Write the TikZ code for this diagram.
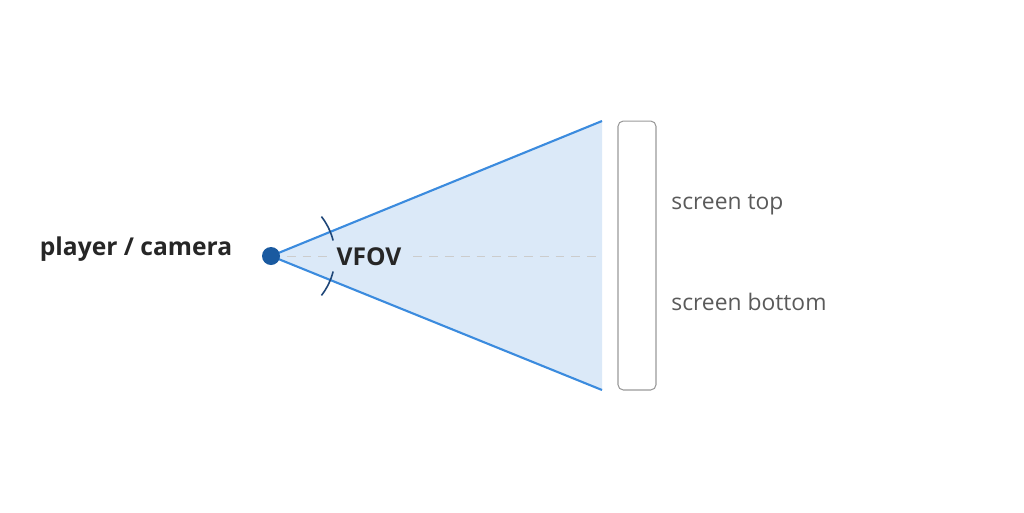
\documentclass[tikz,border=0pt]{standalone}
\usepackage{fontspec}
\setmainfont{Open Sans}
\usetikzlibrary{positioning}
\definecolor{rayblue}{RGB}{59,139,222}
\definecolor{fovfill}{RGB}{219,233,248}
\definecolor{camblue}{RGB}{26,90,160}
\definecolor{arcblue}{RGB}{30,70,120}
\definecolor{labelgray}{RGB}{90,90,90}
\tikzstyle{ray} = [draw=rayblue, line width=1.2pt]
\tikzstyle{label} = [font=\fontsize{13}{15}\selectfont, text=labelgray, anchor=west, inner sep=0pt]
\tikzstyle{title} = [font=\bfseries\fontsize{14}{16}\selectfont, text=black!85, inner sep=0pt]

\begin{document}
\begin{tikzpicture}[x=0.02cm,y=-0.02cm]
  \useasboundingbox (0,0) rectangle (1024,512);
  \coordinate (top) at (602,121);
  \coordinate (bottom) at (602,390);
  \coordinate (mid) at (602,256);
  \fill[fovfill] (271,256) -- (top) -- (bottom) -- cycle;
  \draw[dashed, black!20, dash pattern=on 5pt off 4pt] (271,256) -- (mid);
  \node[title, fill=fovfill, inner sep=3pt] (fov) at (369,257) {VFOV};
  \draw[ray] (271,256) -- (top);
  \draw[ray] (271,256) -- (bottom);
  \draw[arcblue, line width=0.9pt] (271,256) ++(-14:64) arc[start angle=-14, end angle=-38, radius=64];
  \draw[arcblue, line width=0.9pt] (271,256) ++(14:64) arc[start angle=14, end angle=38, radius=64];
  \node[circle, fill=camblue, minimum size=0.36cm, inner sep=0pt] (cam) at (271,256) {};
  \node[title] (player) at (136,249) {player / camera};
  \node[draw=black!40, rounded corners=3pt, minimum width=0.76cm, minimum height=5.38cm, line width=0.6pt] (screen) at (637,255.5) {};
  \node[label] (stop) at (671,205) {screen top};
  \node[label] (sbot) at (671,302) {screen bottom};
\end{tikzpicture}
\end{document}
